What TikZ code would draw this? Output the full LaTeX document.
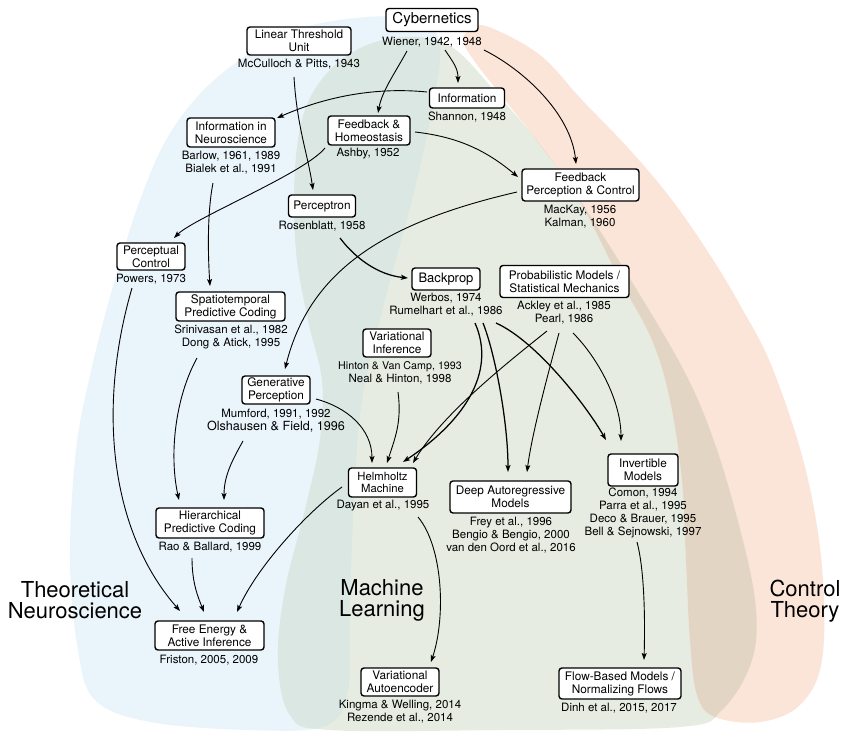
\documentclass[tikz,border=0pt]{standalone}
\usepackage{fontspec}
\setmainfont{TeX Gyre Heros}
\usetikzlibrary{arrows.meta,calc}
\definecolor{neuroFill}{RGB}{234,244,251}
\definecolor{mlFill}{RGB}{230,236,226}
\definecolor{ctrlFill}{RGB}{251,228,216}
\definecolor{neuroMl}{RGB}{218,231,226}
\definecolor{ctrlMl}{RGB}{226,213,196}
\begin{document}
\begin{tikzpicture}[x=1pt,y=-1pt,
  concept/.style={draw=black, line width=1.4pt, rounded corners=3pt, fill=white,
    inner sep=0pt, align=center, font=\fontsize{11.8}{13}\selectfont},
  refs/.style={align=center, inner sep=0pt, font=\fontsize{11.5}{13}\selectfont},
  link/.style={line width=0.9pt, -{Stealth[length=7pt,width=5pt,inset=1.5pt]}},
  heavy/.style={line width=1.25pt},
  field/.style={align=center, inner sep=0pt, font=\fontsize{22}{21}\selectfont}]

\useasboundingbox (0,0) rectangle (844,733);

% ---- the three fields ----
\def\neuroblob{plot[smooth cycle, tension=0.6] coordinates {
  (367,17) (420,22) (440,45) (432,110) (412,200) (385,300) (362,400) (354,500)
  (350,600) (348,690) (325,726) (250,730) (150,722) (95,700) (78,650) (70,560)
  (76,450) (92,367) (112,290) (140,200) (172,130) (220,75) (290,32)}}
\def\mlblob{plot[smooth cycle, tension=0.6] coordinates {
  (330,70) (365,46) (405,37) (438,41) (462,55) (498,95) (538,142) (583,205)
  (632,282) (682,367) (710,430) (735,510) (755,600) (752,660) (722,710) (680,727)
  (500,730) (330,730) (290,715) (278,660) (285,590) (305,510) (320,440)
  (322,380) (308,320) (296,250) (295,170) (305,110)}}
\def\ctrlblob{plot[smooth cycle, tension=0.6] coordinates {
  (489,27) (540,55) (582,100) (630,150) (672,200) (710,255) (740,305) (772,367)
  (805,467) (822,567) (822,660) (800,705) (760,722) (715,717) (697,695) (690,640)
  (686,560) (682,480) (670,400) (652,340) (620,280) (579,200) (540,145) (505,100)
  (475,62) (463,40) (472,29)}}

\fill[neuroFill] \neuroblob;
\fill[mlFill] \mlblob;
\fill[ctrlFill] \ctrlblob;
\begin{scope}
  \clip \neuroblob;
  \fill[neuroMl] \mlblob;
\end{scope}
\begin{scope}
  \clip \ctrlblob;
  \fill[ctrlMl] \mlblob;
\end{scope}

\node[field] (tn) at (75,600) {Theoretical\\Neuroscience};
\node[field] (ml) at (382,600) {Machine\\Learning};
\node[field] (ct) at (805,601) {Control\\Theory};

% ---- concepts ----
\node[concept, minimum width=92pt, minimum height=23pt, font=\fontsize{15}{16}\selectfont] (cyb) at (432,20) {Cybernetics};
\node[refs] (cybR) at (432,42) {Wiener, 1942, 1948};

\node[concept, minimum width=104pt, minimum height=28pt] (lin) at (299,41) {Linear Threshold\\Unit};
\node[refs] (linR) at (299,64) {McCulloch \& Pitts, 1943};

\node[concept, minimum width=75pt, minimum height=20pt] (info) at (467,98) {Information};
\node[refs] (infoR) at (467,117) {Shannon, 1948};

\node[concept, minimum width=88pt, minimum height=29pt] (infn) at (231,132.5) {Information in\\Neuroscience};
\node[refs] (infnR) at (231,162.5) {Barlow, 1961, 1989\\Bialek et al., 1991};

\node[concept, minimum width=82pt, minimum height=29pt] (fbh) at (369,130.5) {Feedback \&\\Homeostasis};
\node[refs] (fbhR) at (368,154) {Ashby, 1952};

\node[concept, minimum width=117pt, minimum height=32pt] (fpc) at (580.5,185) {Feedback\\Perception \& Control};
\node[refs] (fpcR) at (580,216.5) {MacKay, 1956\\Kalman, 1960};

\node[concept, minimum width=67pt, minimum height=22pt] (perc) at (322,206) {Perceptron};
\node[refs] (percR) at (322,226) {Rosenblatt, 1958};

\node[concept, minimum width=68pt, minimum height=27pt] (pctl) at (151,256.5) {Perceptual\\Control};
\node[refs] (pctlR) at (151,279) {Powers, 1973};

\node[concept, minimum width=68pt, minimum height=22pt, font=\fontsize{13}{14}\selectfont] (bp) at (446,279) {Backprop};
\node[refs] (bpR) at (446,305) {Werbos, 1974\\Rumelhart et al., 1986};

\node[concept, minimum width=129pt, minimum height=32pt] (prob) at (564.5,281.5) {Probabilistic Models /\\Statistical Mechanics};
\node[refs] (probR) at (564,312.5) {Ackley et al., 1985\\Pearl, 1986};

\node[concept, minimum width=109pt, minimum height=29pt] (stp) at (230.5,306.5) {Spatiotemporal\\Predictive Coding};
\node[refs] (stpR) at (231,337) {Srinivasan et al., 1982\\Dong \& Atick, 1995};

\node[concept, minimum width=68pt, minimum height=28pt] (vi) at (397,343) {Variational\\Inference};
\node[refs] (viR) at (400,372.5) {{\fontsize{10.7}{13}\selectfont Hinton \& Van Camp, 1993}\\Neal \& Hinton, 1998};

\node[concept, minimum width=68pt, minimum height=28pt] (gp) at (276,390) {Generative\\Perception};
\node[refs] (gpR) at (276,421) {Mumford, 1991, 1992\\{\fontsize{12.6}{13}\selectfont Olshausen \& Field, 1996}};

\node[concept, minimum width=68pt, minimum height=29pt, font=\fontsize{11.3}{12.5}\selectfont] (hm) at (382.5,482.5) {Helmholtz\\Machine};
\node[refs] (hmR) at (383,506) {Dayan et al., 1995};

\node[concept, minimum width=121pt, minimum height=32pt] (dar) at (510.5,497) {Deep Autoregressive\\Models};
\node[refs] (darR) at (511,535) {Frey et al., 1996\\Bengio \& Bengio, 2000\\van den Oord et al., 2016};

\node[concept, minimum width=70pt, minimum height=32pt] (inv) at (643,470) {Invertible\\Models};
\node[refs] (invR) at (643,513) {Comon, 1994\\Parra et al., 1995\\Deco \& Brauer, 1995\\Bell \& Sejnowski, 1997};

\node[concept, minimum width=108pt, minimum height=30pt] (hpc) at (210,523) {Hierarchical\\Predictive Coding};
\node[refs] (hpcR) at (210,547) {Rao \& Ballard, 1999};

\node[concept, minimum width=109pt, minimum height=29pt] (fe) at (209.5,635.5) {Free Energy \&\\Active Inference};
\node[refs] (feR) at (209,660) {Friston, 2005, 2009};

\node[concept, minimum width=78pt, minimum height=28pt] (vae) at (400,682) {Variational\\Autoencoder};
\node[refs] (vaeR) at (400,711.5) {Kingma \& Welling, 2014\\Rezende et al., 2014};

\node[concept, minimum width=122pt, minimum height=31pt] (flow) at (620,683.5) {Flow-Based Models /\\Normalizing Flows};
\node[refs] (flowR) at (619,708) {Dinh et al., 2015, 2017};

% ---- influences ----
\draw[link] ($(cybR.center)+(-25,9)$) .. controls +(-12,22) and +(4,-22) .. ($(fbh.center)+(9,-17.5)$);
\draw[link] ($(cybR.center)+(13,8)$) .. controls +(8,12) and +(0,-15) .. ($(info.center)+(-9,-15)$);
\draw[link] ($(cybR.center)+(52,8)$) .. controls +(40,20) and +(-5,-50) .. ($(fpc.center)+(-4.5,-21)$);
\draw[link] ($(info.center)+(-40,-6)$) .. controls +(-50,-5) and +(50,-22) .. ($(infn.center)+(46,-14.5)$);
\draw[link] ($(linR.center)+(-5,13)$) .. controls +(3,50) and +(-5,-35) .. ($(perc.center)+(-9,-16)$);
\draw[link] ($(fbh.center)+(46,1.5)$) .. controls +(45,5) and +(-30,-25) .. ($(fpc.center)+(-62.5,-8)$);
\draw[link] ($(fbhR.center)+(-43,-6)$) .. controls +(-20,25) and +(20,-20) .. ($(pctl.center)+(23,-18.5)$);
\draw[link] ($(infnR.center)+(-18,20.5)$) .. controls +(-6,30) and +(-2,-30) .. ($(stp.center)+(-20.5,-20.5)$);
\draw[link, heavy] ($(percR.center)+(18,12)$) .. controls +(15,20) and +(-30,-3) .. ($(bp.center)+(-38,-1)$);
\draw[link] ($(fpc.center)+(-63.5,7)$) .. controls +(-130,30) and +(25,-100) .. ($(gp.center)+(9,-21)$);
\draw[link] ($(pctlR.center)+(-19,9)$) .. controls +(-35,120) and +(-70,-80) .. ($(fe.center)+(-29.5,-24.5)$);
\draw[link] ($(stpR.center)+(-34,21)$) .. controls +(-22,40) and +(-10,-45) .. ($(hpc.center)+(-31,-23)$);
\draw[link] ($(gpR.center)+(-33,20)$) .. controls +(-10,18) and +(0,-25) .. ($(hpc.center)+(14,-23)$);
\draw[link] ($(gp.center)+(40,9)$) .. controls +(30,8) and +(0,-35) .. ($(hm.center)+(-10.5,-19.5)$);
\draw[link] ($(viR.center)+(-2,19.5)$) .. controls +(4,30) and +(8,-25) .. ($(hm.center)+(4.5,-19.5)$);
\draw[link, heavy] ($(bpR.center)+(29,18)$) .. controls +(22,50) and +(60,-40) .. ($(hm.center)+(20.5,-20.5)$);
\draw[link] ($(probR.center)+(-17,18.5)$) .. controls +(-35,28) and +(30,-50) .. ($(hm.center)+(30.5,-19.5)$);
\draw[link, heavy] ($(bpR.center)+(37,18)$) .. controls +(12,30) and +(0,-50) .. ($(dar.center)+(-2.5,-25)$);
\draw[link] ($(probR.center)+(-5,20.5)$) .. controls +(-8,30) and +(5,-40) .. ($(dar.center)+(16.5,-25)$);
\draw[link, heavy] ($(bpR.center)+(50,18)$) .. controls +(40,18) and +(-20,-35) .. ($(inv.center)+(-37,-30)$);
\draw[link] ($(probR.center)+(9,20.5)$) .. controls +(25,25) and +(0,-40) .. ($(inv.center)+(-22,-29)$);
\draw[link] ($(hm.center)+(-40.5,4.5)$) .. controls +(-35,25) and +(20,-45) .. ($(fe.center)+(27.5,-23.5)$);
\draw[link] ($(hpcR.center)+(-18,11)$) .. controls +(0,25) and +(-6,-15) .. ($(fe.center)+(-5.5,-23.5)$);
\draw[link] ($(hmR.center)+(35,11)$) .. controls +(25,30) and +(15,-45) .. ($(vae.center)+(31,-20)$);
\draw[link] ($(invR.center)+(-6,29)$) .. controls +(8,30) and +(1,-35) .. ($(flow.center)+(24,-23.5)$);

\end{tikzpicture}
\end{document}
